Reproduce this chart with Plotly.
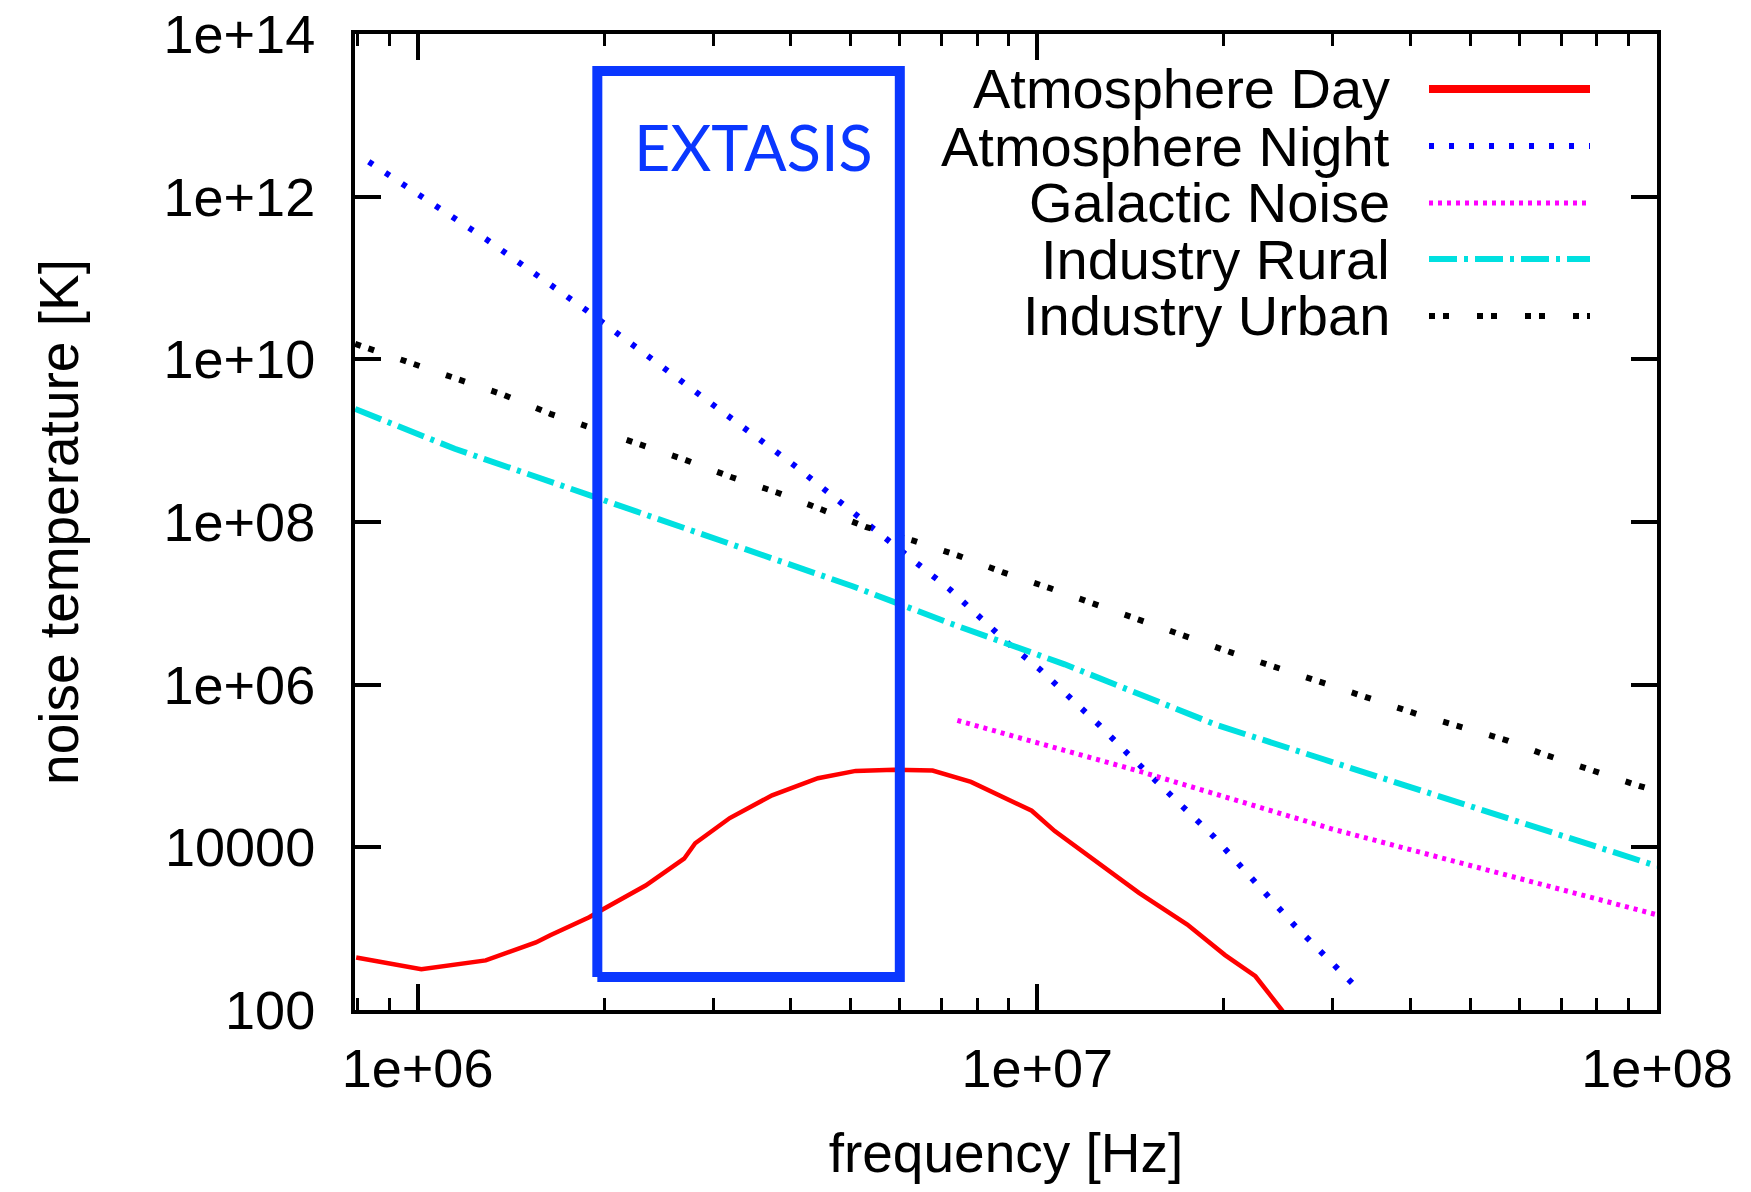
import plotly.graph_objects as go

# ---------------- data ----------------
# frequencies in Hz, temperatures as log10(K)
DAY_F = [0.796e6, 1.014e6, 1.288e6, 1.552e6, 1.637e6, 1.892e6, 1.982e6, 2.333e6,
         2.692e6, 2.805e6, 3.19e6, 3.733e6, 4.426e6, 5.093e6, 5.875e6, 6.776e6,
         7.816e6, 8.995e6, 9.795e6, 10.67e6, 12.47e6, 14.59e6, 17.46e6, 20.09e6,
         22.49e6, 24.55e6, 25.1e6]
DAY_LOGT = [2.645, 2.50, 2.61, 2.83, 2.92, 3.14, 3.23, 3.53,
            3.86, 4.05, 4.36, 4.64, 4.85, 4.94, 4.955, 4.945,
            4.805, 4.59, 4.45, 4.20, 3.82, 3.44, 3.05, 2.675,
            2.415, 2.06, 1.95]

NIGHT_F = [0.834e6, 1.294e6, 1.875e6, 2.692e6, 4.064e6, 5.754e6, 7.228e6,
           8.995e6, 10.09e6, 12.56e6, 14.0e6, 19.28e6, 25.94e6, 32.81e6]
NIGHT_LOGT = [12.43, 11.47, 10.60, 9.70, 8.69, 7.77, 7.17,
              6.50, 6.19, 5.51, 5.15, 4.13, 3.05, 2.27]

GALACTIC_F = [7.43e6, 14.69e6, 29.92e6, 65.3e6, 96.4e6, 100e6]
GALACTIC_LOGT = [5.56, 4.93, 4.225, 3.54, 3.19, 3.17]

RURAL_F = [0.793e6, 1.148e6, 1.66e6, 2.404e6, 3.475e6, 5.035e6, 7.228e6,
           11.07e6, 19.54e6, 34.51e6, 65.3e6, 96.4e6, 100e6]
RURAL_LOGT = [9.39, 8.90, 8.48, 8.06, 7.65, 7.21, 6.755,
              6.25, 5.50, 4.90, 4.22, 3.80, 3.77]

URBAN_F = [0.793e6, 0.982e6, 1.164e6, 1.380e6, 1.637e6, 1.941e6, 2.286e6,
           2.710e6, 3.214e6, 3.811e6, 4.498e6, 5.284e6, 6.310e6, 7.430e6,
           8.810e6, 10.45e6, 14.69e6, 20.65e6, 29.11e6, 40.93e6, 57.54e6,
           65.31e6, 92.26e6, 100e6]
URBAN_LOGT = [10.19, 9.94, 9.75, 9.56, 9.33, 9.14, 8.95,
              8.76, 8.55, 8.36, 8.15, 7.94, 7.77, 7.59,
              7.38, 7.19, 6.79, 6.39, 6.015, 5.64, 5.31,
              5.15, 4.77, 4.69]

# EXTASIS band (frequency span and temperature span of the drawn box)
EXTASIS_F = [1.95e6, 6.0e6]
EXTASIS_LOGT = [2.405, 13.545]

SERIES_NAMES = ["Atmosphere Day", "Atmosphere Night", "Galactic Noise",
                "Industry Rural", "Industry Urban"]

X_TICKS = [1e6, 1e7, 1e8]
X_TICK_LABELS = ["1e+06", "1e+07", "1e+08"]
Y_TICKS = [1e2, 1e4, 1e6, 1e8, 1e10, 1e12, 1e14]
Y_TICK_LABELS = ["100", "10000", "1e+06", "1e+08", "1e+10", "1e+12", "1e+14"]
X_MINOR = [m * 10 ** e for e in (5, 6, 7) for m in range(2, 10) if 7.9e5 < m * 10 ** e < 1e8]

# ---------------- layout / styles ----------------
WIN_W, WIN_H = 1751, 1192
BODY = 8                      # default page body margin
FIG_W, FIG_H = WIN_W - 2 * BODY, WIN_H - 2 * BODY
PL, PR, PT, PB = 355, 1657, 34, 1010   # plot area in window pixels
FONT = "Liberation Sans, Arial, sans-serif"
BOX_BLUE = "#0a37ff"

styles = [
    dict(color="#ff0000", width=4.5, dash="solid"),
    dict(color="#0000ff", width=6, dash="5px,15px"),
    dict(color="#ff00ff", width=5, dash="4px,5px"),
    dict(color="#00e0e0", width=6, dash="28px,7px,4px,7px"),
    dict(color="#000000", width=6, dash="6px,8px,6px,28px"),
]

series = [
    (DAY_F, DAY_LOGT),
    (NIGHT_F, NIGHT_LOGT),
    (GALACTIC_F, GALACTIC_LOGT),
    (RURAL_F, RURAL_LOGT),
    (URBAN_F, URBAN_LOGT),
]

fig = go.Figure()

for name, (fx, ly), st in zip(SERIES_NAMES, series, styles):
    fig.add_trace(go.Scatter(
        x=fx, y=[10 ** v for v in ly], mode="lines", name=name,
        line=dict(color=st["color"], width=st["width"], dash=st["dash"]),
        showlegend=False, hoverinfo="skip",
    ))

# EXTASIS box as a closed trace
bx = [EXTASIS_F[0], EXTASIS_F[1], EXTASIS_F[1], EXTASIS_F[0], EXTASIS_F[0]]
by = [10 ** EXTASIS_LOGT[0], 10 ** EXTASIS_LOGT[0], 10 ** EXTASIS_LOGT[1],
      10 ** EXTASIS_LOGT[1], 10 ** EXTASIS_LOGT[0]]
fig.add_trace(go.Scatter(x=bx, y=by, mode="lines", showlegend=False,
                         line=dict(color=BOX_BLUE, width=10), hoverinfo="skip"))


def px_x(p):
    return (p - PL) / (PR - PL)


def px_y(p):
    return 1 - (p - PT) / (PB - PT)


annotations = [dict(text="EXTASIS", x=px_x(753), y=px_y(146), xref="paper", yref="paper",
                    xanchor="center", yanchor="middle", showarrow=False,
                    font=dict(family="Lato, Open Sans, sans-serif", size=63, color=BOX_BLUE))]
shapes = []
rows = [89, 146, 203, 259, 316]
for name, st, ry in zip(SERIES_NAMES, styles, rows):
    annotations.append(dict(text=name, x=px_x(1392), y=px_y(ry), xref="paper", yref="paper",
                            xanchor="right", yanchor="middle", showarrow=False,
                            font=dict(family=FONT, size=56, color="black")))
    lw = st["width"] + (3.5 if st["dash"] == "solid" else 0)
    shapes.append(dict(type="line", xref="paper", yref="paper",
                       x0=px_x(1429), x1=px_x(1590), y0=px_y(ry), y1=px_y(ry),
                       line=dict(color=st["color"], width=lw, dash=st["dash"])))

axis_common = dict(
    showline=True, linewidth=4, linecolor="black", mirror="ticks",
    ticks="inside", ticklen=26, tickwidth=4, tickcolor="black",
    showgrid=False, zeroline=False, ticklabeloverflow="allow",
    tickfont=dict(family=FONT, size=54, color="black"),
)

fig.update_layout(
    width=FIG_W, height=FIG_H,
    margin=dict(l=PL - BODY, r=WIN_W - BODY - PR, t=PT - BODY, b=WIN_H - BODY - PB,
                autoexpand=False),
    paper_bgcolor="white", plot_bgcolor="white",
    showlegend=False,
    xaxis=dict(type="log", range=[5.899, 8.0], tickmode="array",
               tickvals=X_TICKS, ticktext=X_TICK_LABELS,
               minor=dict(tickmode="array", tickvals=X_MINOR, ticks="inside",
                          ticklen=12, tickwidth=3, tickcolor="black", showgrid=False),
               ticklabelstandoff=8,
               title=dict(text="frequency [Hz]", standoff=46,
                          font=dict(family=FONT, size=55, color="black")),
               **axis_common),
    yaxis=dict(type="log", range=[2, 14], tickmode="array",
               tickvals=Y_TICKS, ticktext=Y_TICK_LABELS,
               ticklabelstandoff=25,
               title=dict(text="noise temperature [K]", standoff=68,
                          font=dict(family=FONT, size=55, color="black")),
               **axis_common),
    annotations=annotations,
    shapes=shapes,
)

fig.write_html("out.html")
